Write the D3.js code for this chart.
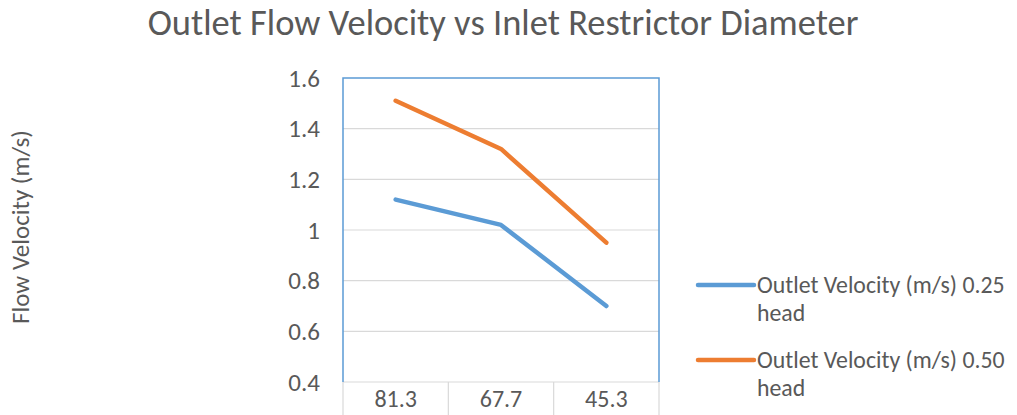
<!DOCTYPE html>
<html>
<head>
<meta charset="utf-8">
<script src="https://cdn.jsdelivr.net/npm/d3@7"></script>
<style>
  body { margin: 0; background: #fff; }
  text { font-family: Carlito, Calibri, "Open Sans", sans-serif; fill: #595959; }
</style>
</head>
<body>
<svg id="chart" width="1017" height="415"></svg>
<script>
const categories = ['81.3', '67.7', '45.3'];
const head25 = [1.12, 1.02, 0.70];
const head50 = [1.51, 1.32, 0.95];
const yTicks = [0.4, 0.6, 0.8, 1, 1.2, 1.4, 1.6];
const seriesNames = ['Outlet Velocity (m/s) 0.25 head', 'Outlet Velocity (m/s) 0.50 head'];
const colors = ['#5B9BD5', '#ED7D31'];

const svg = d3.select('#chart');
const plot = {left: 343, right: 659, top: 78, bottom: 382};

const x = d3.scaleBand().domain(categories).range([plot.left, plot.right]);
const y = d3.scaleLinear().domain([0.4, 1.6]).range([plot.bottom, plot.top]);

// title
svg.append('text').attr('x', 503).attr('y', 35)
  .attr('text-anchor', 'middle').style('font-size', '36.5px')
  .text('Outlet Flow Velocity vs Inlet Restrictor Diameter');

// y axis label
svg.append('text')
  .attr('transform', 'translate(29,227) rotate(-90)')
  .attr('text-anchor', 'middle').style('font-size', '25px')
  .text('Flow Velocity (m/s)');

// gridlines
svg.append('g').selectAll('line').data(yTicks.slice(1, -1)).join('line')
  .attr('x1', plot.left).attr('x2', plot.right)
  .attr('y1', d => y(d)).attr('y2', d => y(d))
  .attr('stroke', '#d9d9d9').attr('stroke-width', 1.2);

// y tick labels
const yAxis = d3.axisLeft(y).tickValues(yTicks).tickSize(0).tickPadding(23)
  .tickFormat(d3.format('~g'));
const yg = svg.append('g').attr('transform', `translate(${plot.left},0)`).call(yAxis);
yg.select('.domain').remove();
yg.selectAll('text').style('font-size', '25px').attr('fill', '#595959')
  .style('font-family', 'Carlito, Calibri, "Open Sans", sans-serif');

// category axis
const xg = svg.append('g');
xg.append('line').attr('x1', plot.left).attr('x2', plot.right)
  .attr('y1', plot.bottom).attr('y2', plot.bottom).attr('stroke', '#d9d9d9').attr('stroke-width', 1.2);
xg.selectAll('line.sep').data([...categories.map(c => x(c)), plot.right]).join('line')
  .attr('class', 'sep')
  .attr('x1', d => d).attr('x2', d => d)
  .attr('y1', plot.bottom).attr('y2', 415).attr('stroke', '#d9d9d9').attr('stroke-width', 1.2);
xg.selectAll('text').data(categories).join('text')
  .attr('x', d => x(d) + x.bandwidth() / 2).attr('y', 407)
  .attr('text-anchor', 'middle').style('font-size', '24px')
  .text(d => d);

// plot border (top, left, right)
svg.append('path')
  .attr('d', `M${plot.left},${plot.bottom}V${plot.top}H${plot.right}V${plot.bottom}`)
  .attr('fill', 'none').attr('stroke', '#5B9BD5').attr('stroke-width', 1.5);

// lines
const line = d3.line()
  .x((d, i) => x(categories[i]) + x.bandwidth() / 2)
  .y(d => y(d));
[head25, head50].forEach((vals, i) => {
  svg.append('path').datum(vals)
    .attr('d', line)
    .attr('fill', 'none').attr('stroke', colors[i])
    .attr('stroke-width', 4.5).attr('stroke-linecap', 'round')
    .attr('stroke-linejoin', 'round');
});

// legend
const legend = svg.append('g');
const legendY = [285, 360];
seriesNames.forEach((name, i) => {
  const g = legend.append('g').attr('transform', `translate(698,${legendY[i]})`);
  g.append('line').attr('x1', 0).attr('x2', 56).attr('y1', 0).attr('y2', 0)
    .attr('stroke', colors[i]).attr('stroke-width', 4.5).attr('stroke-linecap', 'round');
  const words = name.split(' ');
  const t = g.append('text').style('font-size', '23.8px');
  t.append('tspan').attr('x', 59).attr('y', 8).text(words.slice(0, -1).join(' '));
  t.append('tspan').attr('x', 59).attr('y', 36).text(words[words.length - 1]);
});
</script>
</body>
</html>
